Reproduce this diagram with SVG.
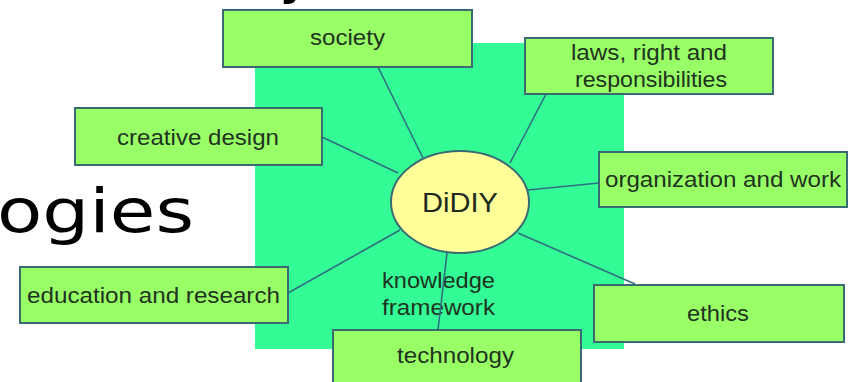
<svg xmlns="http://www.w3.org/2000/svg" width="856" height="382" viewBox="0 0 856 382">
<style>
.box{fill:#99ff66;stroke:#3b6b72;stroke-width:2}
.lbl{font-family:"Liberation Sans",Arial,sans-serif;font-size:22px;fill:#1e3320;text-anchor:start}
.big{font-family:"DejaVu Sans",sans-serif;font-size:60px;fill:#000}
.con line{stroke:#2f6f80;stroke-width:1.6}
</style>
<rect width="856" height="382" fill="#ffffff"/>
<text class="big" x="279" y="-9">y</text>
<text class="big" x="-3" y="232" textLength="197" lengthAdjust="spacingAndGlyphs">ogies</text>
<rect id="framework-bg" x="255" y="43" width="369" height="306" fill="#33fb96"/>
<text class="lbl" x="382" y="288" textLength="113" lengthAdjust="spacingAndGlyphs">knowledge</text>
<text class="lbl" x="382" y="315" textLength="113" lengthAdjust="spacingAndGlyphs">framework</text>
<g id="connectors" class="con">
<line x1="378" y1="67" x2="423" y2="158"/>
<line x1="546" y1="94" x2="510" y2="163"/>
<line x1="322" y1="137" x2="398" y2="173"/>
<line x1="528" y1="190" x2="599" y2="183"/>
<line x1="518" y1="233" x2="635" y2="284"/>
<line x1="288" y1="293" x2="400" y2="230"/>
<line x1="447" y1="253" x2="438" y2="330"/>
</g>
<g id="didiy">
<ellipse cx="460" cy="202" rx="69" ry="51" fill="#ffff99" stroke="#3b6b72" stroke-width="2"/>
<text class="lbl" x="422" y="212" style="font-size:28px;fill:#1f2a1f" textLength="76" lengthAdjust="spacingAndGlyphs">DiDIY</text>
</g>
<g id="society">
<rect class="box" x="223" y="10" width="249" height="57"/>
<text class="lbl" x="310" y="45" textLength="75" lengthAdjust="spacingAndGlyphs">society</text>
</g>
<g id="creative-design">
<rect class="box" x="75" y="108" width="247" height="57"/>
<text class="lbl" x="117" y="145" textLength="162" lengthAdjust="spacingAndGlyphs">creative design</text>
</g>
<g id="laws">
<rect class="box" x="525" y="38" width="248" height="56"/>
<text class="lbl" x="571" y="60" textLength="156" lengthAdjust="spacingAndGlyphs">laws, right and</text>
<text class="lbl" x="575" y="87" textLength="152" lengthAdjust="spacingAndGlyphs">responsibilities</text>
</g>
<g id="organization">
<rect class="box" x="599" y="152" width="248" height="55"/>
<text class="lbl" x="605" y="187" textLength="236" lengthAdjust="spacingAndGlyphs">organization and work</text>
</g>
<g id="education">
<rect class="box" x="20" y="267" width="268" height="56"/>
<text class="lbl" x="27" y="303" textLength="253" lengthAdjust="spacingAndGlyphs">education and research</text>
</g>
<g id="ethics">
<rect class="box" x="594" y="285" width="250" height="57"/>
<text class="lbl" x="687" y="321" textLength="62" lengthAdjust="spacingAndGlyphs">ethics</text>
</g>
<g id="technology">
<rect class="box" x="333" y="330" width="248" height="57"/>
<text class="lbl" x="397" y="363" textLength="117" lengthAdjust="spacingAndGlyphs">technology</text>
</g>
</svg>
